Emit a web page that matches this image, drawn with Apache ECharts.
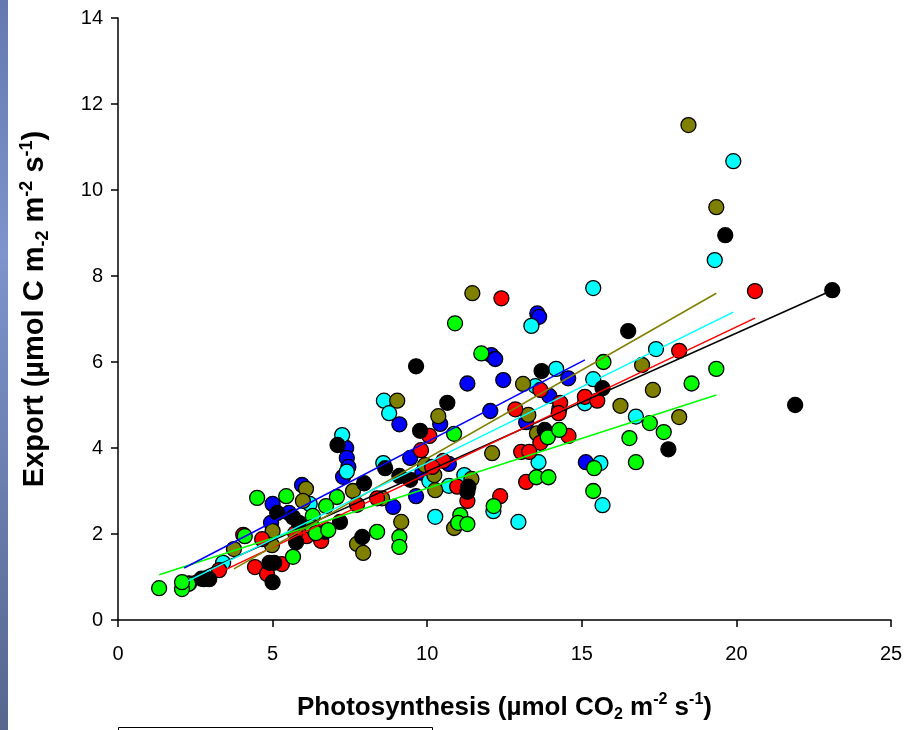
<!DOCTYPE html>
<html>
<head>
<meta charset="utf-8">
<script src="https://cdn.jsdelivr.net/npm/echarts@6/dist/echarts.min.js"></script>
<style>
  html, body { margin: 0; padding: 0; background: #ffffff; }
  #chart { width: 909px; height: 730px; }
</style>
</head>
<body>
<div id="chart"></div>
<script>
// ---- data ----
const seriesNames = ['black', 'red', 'green', 'olive', 'cyan', 'blue'];
const seriesColors = ['#000000', '#ff0000', '#00ff00', '#808000', '#00ffff', '#0000ff'];

const blackPts = [[23.1,7.67],[19.64,8.95],[21.9,5.0],[16.5,6.72],[17.8,3.97],[15.67,5.39],[13.7,5.79],[13.8,4.42],
  [9.64,5.9],[10.65,5.05],[9.77,4.4],[9.45,3.26],[9.1,3.35],[8.64,3.53],[7.96,3.18],[7.1,4.07],[7.18,2.28],[7.9,1.93],
  [11.33,3.1],[11.3,2.98],[5.15,2.49],[5.66,2.39],[5.85,2.26],[5.76,1.81],[6.7,2.05],[4.9,1.33],[5.05,1.33],[5.0,0.88],
  [2.95,0.95],[2.7,0.96]];
const redPts = [[20.6,7.65],[18.15,6.26],[12.4,7.48],[15.1,5.19],[15.5,5.1],[14.3,5.05],[14.25,4.81],[13.66,5.35],
  [12.85,4.9],[13.66,4.12],[14.57,4.28],[13.04,3.91],[13.3,3.91],[13.2,3.21],[12.36,2.88],[11.3,2.77],[10.97,3.1],
  [10.52,3.7],[9.8,3.95],[10.07,4.28],[10.16,3.56],[8.38,2.83],[7.73,2.68],[6.1,1.95],[6.57,1.84],[5.73,2.02],[4.66,1.88],
  [4.05,1.98],[4.43,1.23],[5.3,1.3],[4.82,1.07],[3.27,1.16]];
const greenPts = [[15.7,6.0],[19.35,5.84],[18.55,5.5],[17.2,4.58],[17.65,4.37],[16.54,4.23],[16.75,3.67],[15.4,3.53],
  [15.37,3.0],[13.9,4.25],[14.27,4.42],[13.53,3.32],[13.92,3.32],[12.15,2.65],[11.07,2.44],[11.0,2.26],[11.3,2.23],
  [10.87,4.33],[10.9,6.9],[11.75,6.2],[9.1,1.93],[9.1,1.7],[8.38,2.05],[7.08,2.86],[6.73,2.65],[6.3,2.42],[6.28,2.16],
  [6.4,2.02],[6.8,2.09],[5.44,2.88],[4.5,2.84],[4.1,1.95],[5.66,1.47],[2.27,0.84],[2.07,0.72],[2.07,0.88],[1.33,0.74]];
const olivePts = [[18.45,11.51],[19.35,9.6],[16.95,5.93],[17.3,5.35],[18.15,4.72],[16.25,4.98],[11.46,7.6],[13.1,5.49],
  [13.27,4.77],[13.55,4.34],[12.1,3.88],[11.43,3.28],[10.26,3.02],[10.23,3.37],[9.93,3.6],[10.36,4.74],[9.03,5.1],
  [9.16,2.28],[10.87,2.14],[8.54,2.83],[7.73,1.77],[7.93,1.56],[7.6,3.0],[6.08,3.05],[5.98,2.77],[5.0,2.07],[4.98,1.74],
  [3.75,1.65]];
const cyanPts = [[19.9,10.67],[19.3,8.37],[15.37,7.72],[17.4,6.3],[15.37,5.6],[15.1,5.04],[16.75,4.73],[15.6,3.65],
  [15.67,2.67],[13.37,6.84],[14.17,5.84],[13.5,5.44],[13.6,3.67],[12.95,2.28],[12.14,2.53],[10.26,2.4],[10.7,3.12],
  [11.2,3.37],[10.07,3.23],[8.6,5.1],[8.77,4.81],[8.58,3.65],[7.25,4.3],[7.4,3.45],[6.2,2.7],[3.4,1.33],[2.3,0.85]];
const bluePts = [[13.56,7.13],[13.62,7.05],[12.07,6.16],[12.2,6.07],[11.3,5.5],[12.46,5.58],[14.56,5.62],[13.95,5.21],
  [14.27,4.9],[12.04,4.86],[13.2,4.6],[15.13,3.67],[10.7,3.63],[9.84,3.42],[9.45,3.77],[10.42,4.56],[9.1,4.55],
  [8.9,2.63],[9.64,2.88],[7.38,4.0],[7.4,3.77],[7.45,3.56],[7.28,3.33],[5.95,3.14],[5.0,2.7],[5.53,2.49],[4.95,2.26],
  [2.78,0.95]];

// regression line end points
const blackFit = [[2.3,0.98],[23.1,7.67]];
const redFit   = [[3.24,1.09],[20.6,7.02]];
const greenFit = [[1.33,1.05],[19.35,5.23]];
const oliveFit = [[3.75,1.19],[19.35,7.6]];
const cyanFit  = [[2.27,0.91],[19.9,7.16]];
const blueFit  = [[2.14,1.21],[15.1,6.05]];

const xTicks = [0, 5, 10, 15, 20, 25];
const yTicks = [0, 2, 4, 6, 8, 10, 12, 14];

// ---- chart ----
const allPts = [blackPts, redPts, greenPts, olivePts, cyanPts, bluePts];
const allFits = [blackFit, redFit, greenFit, oliveFit, cyanFit, blueFit];
const drawOrder = [5, 4, 3, 1, 0, 2]; // bottom -> top

const FONT = '"Liberation Sans", Arial, sans-serif';
const series = [];
drawOrder.forEach((i, k) => {
  series.push({
    name: seriesNames[i], type: 'scatter', data: allPts[i],
    symbol: 'circle', symbolSize: 15, z: 2 + k * 0.01,
    itemStyle: { color: seriesColors[i], borderColor: '#000', borderWidth: 1.3, opacity: 1 },
    emphasis: { disabled: true }
  });
});
[0, 1, 2, 3, 4, 5].forEach(i => {
  series.push({
    name: seriesNames[i] + ' fit', type: 'line', data: allFits[i], z: 5,
    showSymbol: false, symbol: 'none',
    lineStyle: { color: seriesColors[i], width: 1.6 }
  });
});

function richFor(size, supSize, lh) {
  return {
    b:   { fontSize: size, fontWeight: 'bold', fontFamily: FONT, color: '#000', lineHeight: lh },
    sup: { fontSize: supSize, fontWeight: 'bold', fontFamily: FONT, color: '#000', lineHeight: supSize, verticalAlign: 'top' },
    sub: { fontSize: supSize, fontWeight: 'bold', fontFamily: FONT, color: '#000', lineHeight: supSize, verticalAlign: 'bottom' }
  };
}

const chart = echarts.init(document.getElementById('chart'), null, { renderer: 'canvas' });
chart.setOption({
  animation: false,
  backgroundColor: '#ffffff',
  grid: { left: 118, top: 18, width: 773, height: 602, containLabel: false },
  xAxis: {
    type: 'value', min: xTicks[0], max: xTicks[xTicks.length - 1], interval: 5,
    splitLine: { show: false },
    axisLine: { show: true, onZero: false, lineStyle: { color: '#000', width: 1.5 } },
    axisTick: { show: true, inside: false, length: 7, lineStyle: { color: '#000', width: 1.5 } },
    axisLabel: { fontSize: 20, fontFamily: FONT, color: '#000', margin: 24, showMaxLabel: true },
    name: '{b|Photosynthesis (µmol CO}{sub|2}{b| m}{sup|-2}{b| s}{sup|-1}{b|)}',
    nameLocation: 'middle', nameGap: 72,
    nameTextStyle: { rich: richFor(26, 16, 31) }
  },
  yAxis: {
    type: 'value', min: yTicks[0], max: yTicks[yTicks.length - 1], interval: 2,
    splitLine: { show: false },
    axisLine: { show: true, onZero: false, lineStyle: { color: '#000', width: 1.5 } },
    axisTick: { show: true, inside: false, length: 7, lineStyle: { color: '#000', width: 1.5 } },
    axisLabel: { fontSize: 20, fontFamily: FONT, color: '#000', margin: 15 },
    name: '{b|Export (µmol C m}{sub|-2}{b| m}{sup|-2}{b| s}{sup|-1}{b|)}',
    nameLocation: 'middle', nameGap: 66, nameRotate: 90,
    nameTextStyle: { rich: richFor(29, 18, 34), padding: [0, 0, 0, 20] }
  },
  series: series,
  graphic: [
    {
      type: 'rect', left: 0, top: 0, z: 100,
      shape: { x: 0, y: 0, width: 8, height: 730 },
      style: {
        fill: new echarts.graphic.LinearGradient(0, 0, 0, 1, [
          { offset: 0, color: '#6579b0' },
          { offset: 0.35, color: '#7d94cc' },
          { offset: 1, color: '#56668f' }
        ])
      }
    },
    {
      type: 'rect', z: 100,
      shape: { x: 118.5, y: 727.5, width: 314, height: 20 },
      style: { fill: '#ffffff', stroke: '#000', lineWidth: 1 }
    }
  ]
});
</script>
</body>
</html>
